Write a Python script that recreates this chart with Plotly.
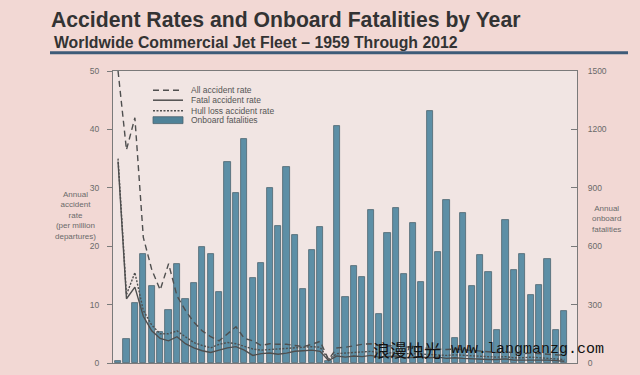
import plotly.graph_objects as go

years = list(range(1959, 2013))

onboard_fatalities = [10, 125, 310, 560, 394, 157, 273, 510, 328, 409,
                      596, 560, 364, 1030, 874, 1151, 439, 515, 899, 702,
                      1005, 656, 379, 581, 697, 10, 1217, 338, 500, 444,
                      788, 252, 667, 798, 459, 717, 414, 1293, 571, 838,
                      131, 773, 394, 556, 470, 172, 737, 480, 560, 348,
                      399, 535, 167, 268]

all_accident_rate = [50, 36.5, 42, 21.5, 16, 12.5, 17, 11.5, 9, 7,
                     5.5, 4.5, 3.8, 5.0, 6.2, 4.2, 3.8, 3.0, 3.3, 3.2,
                     3.2, 3.0, 2.8, 3.2, 3.7, 0.6, 2.6, 2.7, 3.0, 3.2,
                     3.3, 3.0, 2.9, 3.0, 2.7, 2.8, 2.6, 2.5, 2.5, 2.3,
                     2.4, 2.3, 2.1, 2.0, 1.9, 1.8, 1.9, 1.7, 1.6, 1.7,
                     1.6, 1.5, 1.4, 1.3]

fatal_accident_rate = [34.5, 11, 13, 8, 5.5, 4.2, 3.8, 4.5, 3.3, 2.6,
                       2.1, 1.8, 2.2, 2.6, 2.8, 2.2, 1.3, 1.6, 1.7, 1.5,
                       1.7, 2.0, 2.1, 2.2, 2.0, 0.4, 1.2, 1.0, 1.2, 1.1,
                       1.3, 1.0, 1.1, 1.2, 0.9, 1.0, 1.0, 0.9, 1.0, 0.8,
                       0.9, 0.8, 0.7, 0.7, 0.6, 0.6, 0.7, 0.5, 0.5, 0.6,
                       0.5, 0.5, 0.4, 0.3]

hull_loss_rate = [35, 11.7, 15.5, 9, 6.5, 5, 5, 5.5, 4.5, 3.5,
                  3, 2.6, 3.2, 3.5, 3.3, 2.8, 2.4, 2.2, 2.3, 2.4,
                  2.5, 2.6, 2.8, 2.8, 2.7, 0.6, 1.6, 1.7, 1.8, 1.9,
                  2.0, 1.8, 1.7, 1.8, 1.6, 1.6, 1.5, 1.5, 1.4, 1.3,
                  1.4, 1.3, 1.2, 1.2, 1.1, 1.0, 1.1, 0.9, 0.9, 1.0,
                  0.9, 0.8, 0.8, 0.6]

rate_ticks = [0, 10, 20, 30, 40, 50]
fatality_ticks = [0, 300, 600, 900, 1200, 1500]

legend_labels = ["All accident rate", "Fatal accident rate",
                 "Hull loss accident rate", "Onboard fatalities"]

# ---- layout geometry (pixels) ----
W, H = 640, 375
L, R, T, B = 113, 577, 71, 368
PW, PH = R - L, B - T


def px(xp):
    return (xp - L) / PW


def py(yp):
    return (B - yp) / PH


LINE_COL = "#4f4f4f"
AX_COL = "#7a7a7a"
TXT_COL = "#6a6a6a"
BG = "#f2d8d4"

fig = go.Figure()

fig.add_trace(go.Bar(
    x=years, y=onboard_fatalities, yaxis="y", name=legend_labels[3],
    marker=dict(color="#5d8fa6", line=dict(color="#4d6470", width=0.8)),
    width=0.74, showlegend=False))

fig.add_trace(go.Scatter(
    x=years, y=all_accident_rate, yaxis="y2", mode="lines", name=legend_labels[0],
    line=dict(color=LINE_COL, width=1.4, dash="6px,4px"), showlegend=False))
fig.add_trace(go.Scatter(
    x=years, y=fatal_accident_rate, yaxis="y2", mode="lines", name=legend_labels[1],
    line=dict(color=LINE_COL, width=1.4), showlegend=False))
fig.add_trace(go.Scatter(
    x=years, y=hull_loss_rate, yaxis="y2", mode="lines", name=legend_labels[2],
    line=dict(color=LINE_COL, width=1.4, dash="2px,1.5px"), showlegend=False))

shapes = []
annotations = []

# custom legend
leg_x0, leg_x1, txt_x = 153, 183, 189
leg_rows = [90.5, 100.7, 111.5, 121]
dashes = ["6px,4px", "solid", "2px,1.5px"]
for i in range(3):
    shapes.append(dict(type="line", xref="paper", yref="paper",
                       x0=px(leg_x0), x1=px(leg_x1),
                       y0=py(leg_rows[i]), y1=py(leg_rows[i]),
                       line=dict(color=LINE_COL, width=1.5, dash=dashes[i])))
shapes.append(dict(type="rect", xref="paper", yref="paper",
                   x0=px(leg_x0), x1=px(leg_x1),
                   y0=py(leg_rows[3] + 3.5), y1=py(leg_rows[3] - 3.5),
                   fillcolor="#4f8298", line=dict(color="#4d6470", width=0.8)))
for i, lab in enumerate(legend_labels):
    annotations.append(dict(xref="paper", yref="paper", x=px(txt_x), y=py(leg_rows[i]),
                            text=lab, showarrow=False, xanchor="left", yanchor="middle",
                            font=dict(size=8.5, color="#555555",
                                      family="Liberation Sans, Arial")))

# titles
annotations.append(dict(xref="paper", yref="paper", x=px(49), y=py(19),
                        text="<b>Accident Rates and Onboard Fatalities by Year</b>",
                        showarrow=False, xanchor="left", yanchor="middle",
                        font=dict(size=21.2, color="#333333",
                                  family="Liberation Sans, Arial")))
annotations.append(dict(xref="paper", yref="paper", x=px(52), y=py(42),
                        text="<b>Worldwide Commercial Jet Fleet – 1959 Through 2012</b>",
                        showarrow=False, xanchor="left", yanchor="middle",
                        font=dict(size=15.8, color="#333333",
                                  family="Liberation Sans, Arial")))
shapes.append(dict(type="line", xref="paper", yref="paper",
                   x0=px(50), x1=px(628), y0=py(52.5), y1=py(52.5),
                   line=dict(color="#3e5b78", width=3)))

# axis titles
annotations.append(dict(xref="paper", yref="paper", x=px(75), y=py(218),
                        text="Annual<br>accident<br>rate<br>(per million<br>departures)",
                        showarrow=False, xanchor="center", yanchor="middle",
                        align="center",
                        font=dict(size=8, color=TXT_COL, family="Liberation Sans, Arial")))
annotations.append(dict(xref="paper", yref="paper", x=px(606), y=py(222),
                        text="Annual<br>onboard<br>fatalities",
                        showarrow=False, xanchor="center", yanchor="middle",
                        align="center",
                        font=dict(size=8, color=TXT_COL, family="Liberation Sans, Arial")))

# watermark
annotations.append(dict(xref="paper", yref="paper", x=px(371), y=py(354),
                        text="浪漫烛光", showarrow=False, xanchor="left", yanchor="middle",
                        font=dict(size=17, color="#111111", family="Noto Sans CJK SC")))
annotations.append(dict(xref="paper", yref="paper", x=px(449), y=py(354),
                        text="www.langmanzg.com", showarrow=False, xanchor="left",
                        yanchor="middle",
                        font=dict(size=15, color="#111111", family="Liberation Mono")))

fig.update_layout(
    width=W, height=H,
    margin=dict(l=L, r=W - R, t=T, b=H - B, pad=0),
    paper_bgcolor=BG,
    plot_bgcolor="#f1e5e3",
    showlegend=False,
    bargap=0,
    xaxis=dict(range=[1958.4, 2013.5], showgrid=False, zeroline=False,
               showticklabels=False, ticks="", showline=True, mirror=True,
               linecolor=AX_COL, linewidth=1),
    yaxis=dict(range=[0, 1500], side="right", tickvals=fatality_ticks,
               ticks="inside", ticklen=6, tickcolor=AX_COL, showgrid=False,
               zeroline=False, showline=True, linecolor=AX_COL, linewidth=1,
               ticklabelstandoff=8,
               tickfont=dict(size=8.5, color=TXT_COL, family="Liberation Sans, Arial")),
    yaxis2=dict(range=[0, 50], overlaying="y", side="left", tickvals=rate_ticks,
                ticks="outside", ticklen=5, tickcolor=AX_COL, showgrid=False,
                zeroline=False, showline=True, linecolor=AX_COL, linewidth=1,
                ticklabelstandoff=6,
                tickfont=dict(size=8.5, color=TXT_COL, family="Liberation Sans, Arial")),
    shapes=shapes,
    annotations=annotations,
)

fig.write_html(
    "out.html",
    config={"displayModeBar": False},
    post_script="document.body.style.margin='0';document.body.style.background='%s';" % BG,
)
